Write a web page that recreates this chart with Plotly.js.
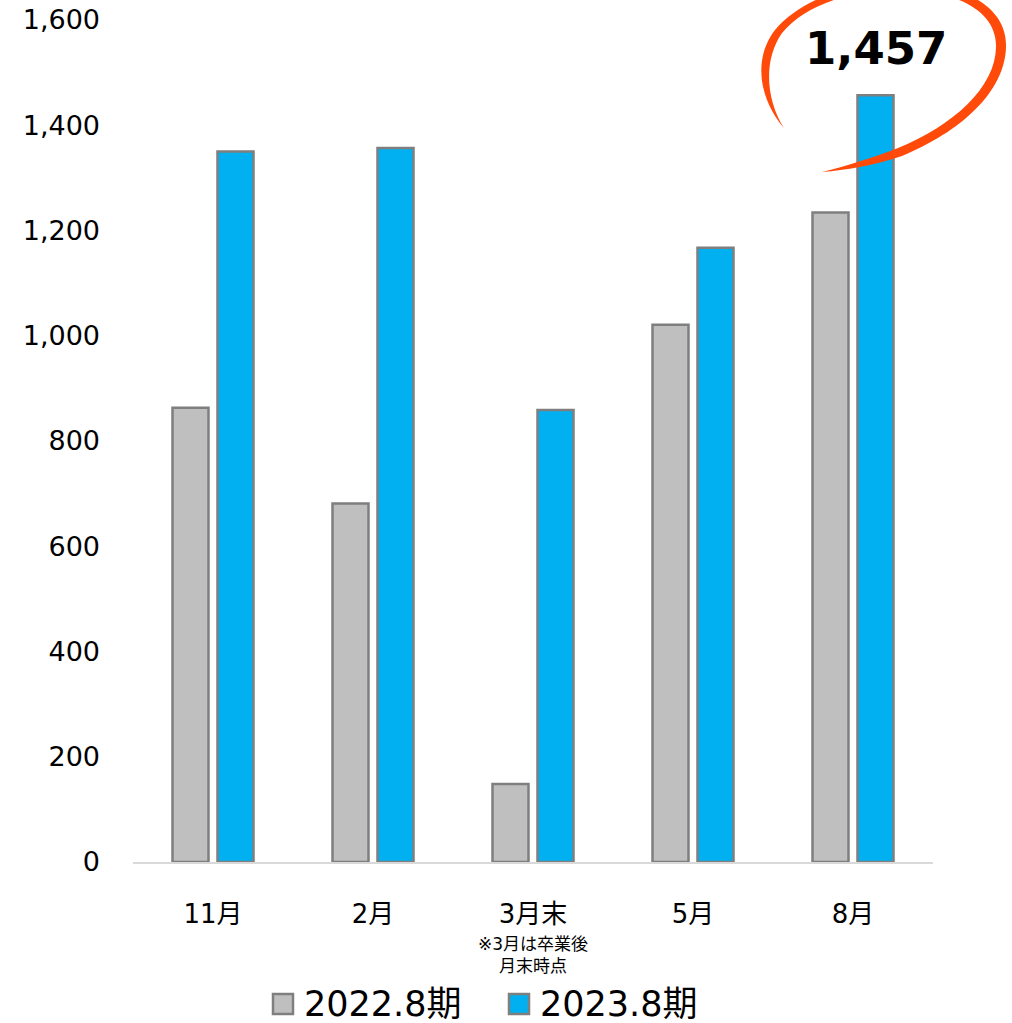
<!DOCTYPE html>
<html>
<head>
<meta charset="utf-8">
<script src="https://cdn.plot.ly/plotly-3.0.1.min.js"></script>
<style>html,body{margin:0;padding:0;background:#fff;}</style>
</head>
<body>
<div id="chart" style="width:1012px;height:1023px;"></div>
<script>
// ---- data ----
const categories = ['11月', '2月', '3月末', '5月', '8月'];
const seriesNames = ['2022.8期', '2023.8期'];
const values2022 = [863, 681, 148, 1021, 1234];
const values2023 = [1350, 1357, 859, 1167, 1457];
const yTickValues = [0, 200, 400, 600, 800, 1000, 1200, 1400, 1600];
const noteText = '※3月は卒業後<br>月末時点';
const noteCategory = '3月末';
const highlightValue = values2023[values2023.length - 1];

// ---- layout helpers (pixel -> paper) ----
const W = 1012, H = 1023;
const mL = 133, mR = 79, mT = 20, mB = 161;
const plotW = W - mL - mR, plotH = H - mT - mB;
const px = x => (x - mL) / plotW;
const py = y => (H - mB - y) / plotH;
const P = (x, y) => px(x).toFixed(4) + ',' + py(y).toFixed(4);

const colors = ['#BFBFBF', '#00B0F0'];
const outline = '#7F7F7F';
const FONT = 'DejaVu Sans, Noto Sans CJK JP, sans-serif';

const traces = [
  {type: 'bar', name: seriesNames[0], x: categories, y: values2022,
   marker: {color: colors[0], line: {color: outline, width: 2.5}}, showlegend: false, hoverinfo: 'x+y'},
  {type: 'bar', name: seriesNames[1], x: categories, y: values2023,
   marker: {color: colors[1], line: {color: outline, width: 2.5}}, showlegend: false, hoverinfo: 'x+y'}
];

// swoosh (hand-drawn ellipse) as a filled crescent path
const swoosh = 'M' + P(784,128) +
  ' C' + P(760,100) + ' ' + P(752,60) + ' ' + P(775,30) +
  ' C' + P(800,0) + ' ' + P(850,-18) + ' ' + P(900,-18) +
  ' C' + P(960,-18) + ' ' + P(1006,5) + ' ' + P(1006,45) +
  ' C' + P(1006,92) + ' ' + P(960,132) + ' ' + P(902,156) +
  ' C' + P(872,166) + ' ' + P(846,170) + ' ' + P(822,172) +
  ' C' + P(846,166) + ' ' + P(872,158) + ' ' + P(898,148) +
  ' C' + P(952,126) + ' ' + P(996,88) + ' ' + P(996,46) +
  ' C' + P(996,10) + ' ' + P(955,-10) + ' ' + P(900,-10) +
  ' C' + P(850,-10) + ' ' + P(805,5) + ' ' + P(782,33) +
  ' C' + P(763,60) + ' ' + P(766,100) + ' ' + P(784,128) + ' Z';

const shapes = [
  {type: 'path', xref: 'paper', yref: 'paper', path: swoosh,
   fillcolor: '#FF4A0A', line: {width: 0}, layer: 'above'},
  // legend squares
  {type: 'rect', xref: 'paper', yref: 'paper', x0: px(273), x1: px(293), y0: py(1014), y1: py(994),
   fillcolor: colors[0], line: {color: outline, width: 2.5}},
  {type: 'rect', xref: 'paper', yref: 'paper', x0: px(509), x1: px(529), y0: py(1014), y1: py(994),
   fillcolor: colors[1], line: {color: outline, width: 2.5}}
];

const annotations = [
  {xref: 'paper', yref: 'paper', x: px(876), y: py(48), text: '<b>' + highlightValue.toLocaleString('en-US') + '</b>',
   showarrow: false, font: {family: FONT, size: 45, color: '#000'}, xanchor: 'center', yanchor: 'middle'},
  {xref: 'x', yref: 'paper', x: noteCategory, y: py(955), text: noteText, showarrow: false,
   font: {family: FONT, size: 17, color: '#000'}, xanchor: 'center', yanchor: 'middle', align: 'center'},
  {xref: 'paper', yref: 'paper', x: px(302), y: py(1004), text: seriesNames[0], showarrow: false,
   font: {family: FONT, size: 35, color: '#000'}, xanchor: 'left', yanchor: 'middle'},
  {xref: 'paper', yref: 'paper', x: px(538), y: py(1004), text: seriesNames[1], showarrow: false,
   font: {family: FONT, size: 35, color: '#000'}, xanchor: 'left', yanchor: 'middle'}
];

const layout = {
  width: W, height: H,
  margin: {l: mL, r: mR, t: mT, b: mB},
  paper_bgcolor: '#fff', plot_bgcolor: '#fff',
  barmode: 'group', bargap: 0.4375, bargroupgap: 0.2,
  showlegend: false,
  font: {family: FONT, color: '#000'},
  xaxis: {
    type: 'category', showline: true, linecolor: '#D9D9D9', linewidth: 2,
    showgrid: false, ticks: '', tickfont: {family: FONT, size: 26, color: '#000'},
    ticklabelstandoff: 28, fixedrange: true
  },
  yaxis: {
    range: [0, 1600], tickvals: yTickValues, tickformat: ',d',
    showgrid: false, zeroline: false, showline: false, ticks: '',
    tickfont: {family: FONT, size: 27, color: '#000'},
    ticklabelstandoff: 32, fixedrange: true
  },
  shapes: shapes,
  annotations: annotations
};

Plotly.newPlot('chart', traces, layout, {displayModeBar: false, staticPlot: true});
</script>
</body>
</html>
